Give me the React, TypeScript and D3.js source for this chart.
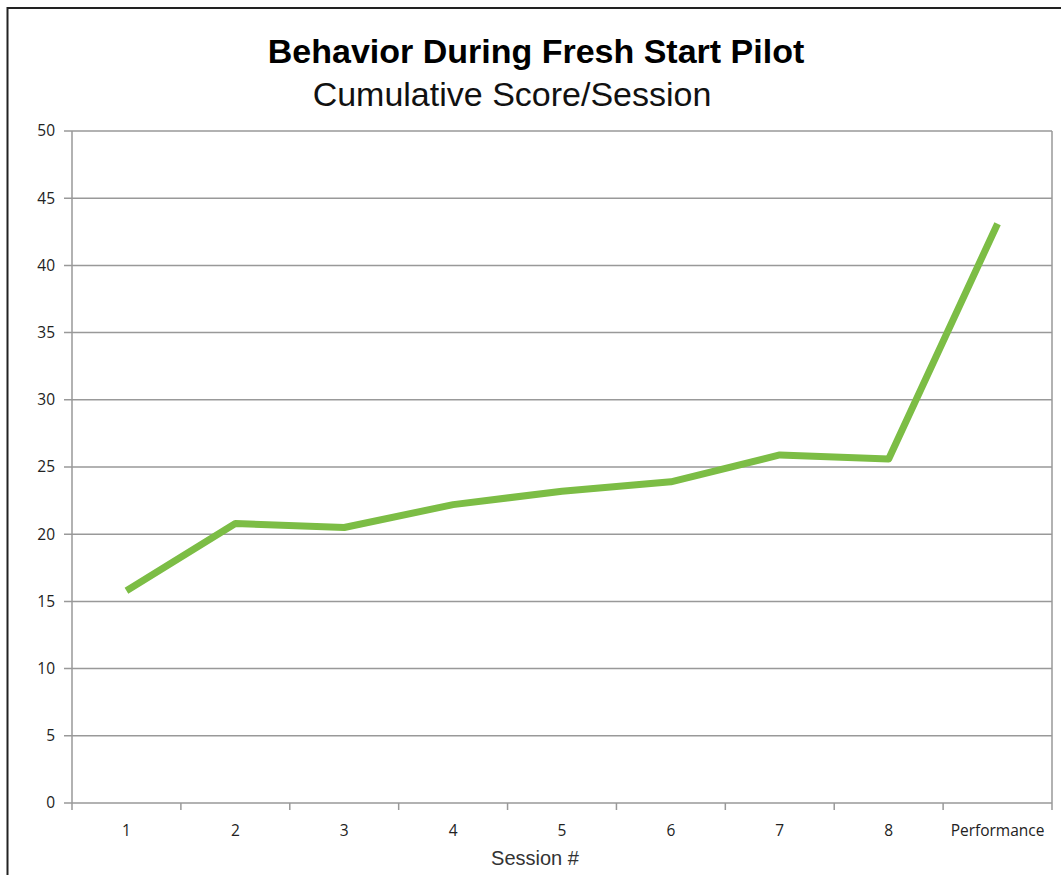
import { useEffect, useRef } from 'react'
import * as d3 from 'd3'

const sessions = ['1', '2', '3', '4', '5', '6', '7', '8', 'Performance']
const scores = [15.8, 20.8, 20.5, 22.2, 23.2, 23.9, 25.9, 25.6, 43.1]
const yTicks = [0, 5, 10, 15, 20, 25, 30, 35, 40, 45, 50]

export default function App() {
  const svgRef = useRef<SVGSVGElement>(null)

  useEffect(() => {
    if (!svgRef.current) return
    const width = 1061
    const height = 875
    const margin = { top: 131, right: 9, bottom: 72, left: 72 }

    const svg = d3.select(svgRef.current)
    svg.selectAll('*').remove()
    svg.attr('width', width).attr('height', height)

    svg.append('rect').attr('width', width).attr('height', height).attr('fill', '#fff')

    // outer frame
    svg
      .append('path')
      .attr('d', `M7.5,${height} V8 H${width}`)
      .attr('fill', 'none')
      .attr('stroke', '#222')
      .attr('stroke-width', 2)

    const x = d3
      .scaleBand<string>()
      .domain(sessions)
      .range([margin.left, width - margin.right])
    const y = d3
      .scaleLinear()
      .domain([0, 50])
      .range([height - margin.bottom, margin.top])

    // gridlines
    svg
      .append('g')
      .selectAll('line')
      .data(yTicks)
      .enter()
      .append('line')
      .attr('x1', margin.left - 8)
      .attr('x2', width - margin.right)
      .attr('y1', (d) => y(d))
      .attr('y2', (d) => y(d))
      .attr('stroke', '#999')
      .attr('stroke-width', 1.5)

    // y axis line
    svg
      .append('line')
      .attr('x1', margin.left)
      .attr('x2', margin.left)
      .attr('y1', y(50))
      .attr('y2', y(0))
      .attr('stroke', '#999')
      .attr('stroke-width', 1.5)

    // right plot border
    svg
      .append('line')
      .attr('x1', width - margin.right)
      .attr('x2', width - margin.right)
      .attr('y1', y(50))
      .attr('y2', y(0))
      .attr('stroke', '#999')
      .attr('stroke-width', 1.5)

    // y tick labels
    svg
      .append('g')
      .selectAll('text')
      .data(yTicks)
      .enter()
      .append('text')
      .attr('x', margin.left - 17)
      .attr('y', (d) => y(d))
      .attr('dy', '0.35em')
      .attr('text-anchor', 'end')
      .attr('font-family', '"Open Sans", sans-serif')
      .attr('font-size', 15.5)
      .attr('fill', '#222')
      .text((d) => d)

    // x ticks at category boundaries
    const boundaries = sessions.map((s) => x(s) as number).concat([width - margin.right])
    svg
      .append('g')
      .selectAll('line')
      .data(boundaries)
      .enter()
      .append('line')
      .attr('x1', (d) => d)
      .attr('x2', (d) => d)
      .attr('y1', y(0))
      .attr('y2', y(0) + 7)
      .attr('stroke', '#999')
      .attr('stroke-width', 1.5)

    svg
      .append('g')
      .selectAll('text')
      .data(sessions)
      .enter()
      .append('text')
      .attr('x', (d) => (x(d) as number) + x.bandwidth() / 2)
      .attr('y', 836)
      .attr('text-anchor', 'middle')
      .attr('font-family', '"Open Sans", sans-serif')
      .attr('font-size', 15.5)
      .attr('fill', '#222')
      .text((d) => d)

    svg
      .append('text')
      .attr('x', 535)
      .attr('y', 865)
      .attr('text-anchor', 'middle')
      .attr('font-family', '"Liberation Sans", Arial, sans-serif')
      .attr('font-size', 20)
      .attr('fill', '#333')
      .text('Session #')

    // titles
    svg
      .append('text')
      .attr('x', 536)
      .attr('y', 63)
      .attr('text-anchor', 'middle')
      .attr('font-family', '"Liberation Sans", Arial, sans-serif')
      .attr('font-weight', 'bold')
      .attr('font-size', 34)
      .attr('fill', '#000')
      .text('Behavior During Fresh Start Pilot')

    svg
      .append('text')
      .attr('x', 512)
      .attr('y', 106)
      .attr('text-anchor', 'middle')
      .attr('font-family', '"Liberation Sans", Arial, sans-serif')
      .attr('font-size', 34)
      .attr('fill', '#111')
      .text('Cumulative Score/Session')

    // data line
    const line = d3
      .line<number>()
      .x((_, i) => (x(sessions[i]) as number) + x.bandwidth() / 2)
      .y((d) => y(d))

    svg
      .append('path')
      .datum(scores)
      .attr('d', line)
      .attr('fill', 'none')
      .attr('stroke', '#7cbd45')
      .attr('stroke-width', 7)
      .attr('stroke-linejoin', 'round')
  }, [])

  return (
    <div style={{ position: 'absolute', left: 0, top: 0 }}>
      <svg ref={svgRef} style={{ display: 'block' }}></svg>
    </div>
  )
}
